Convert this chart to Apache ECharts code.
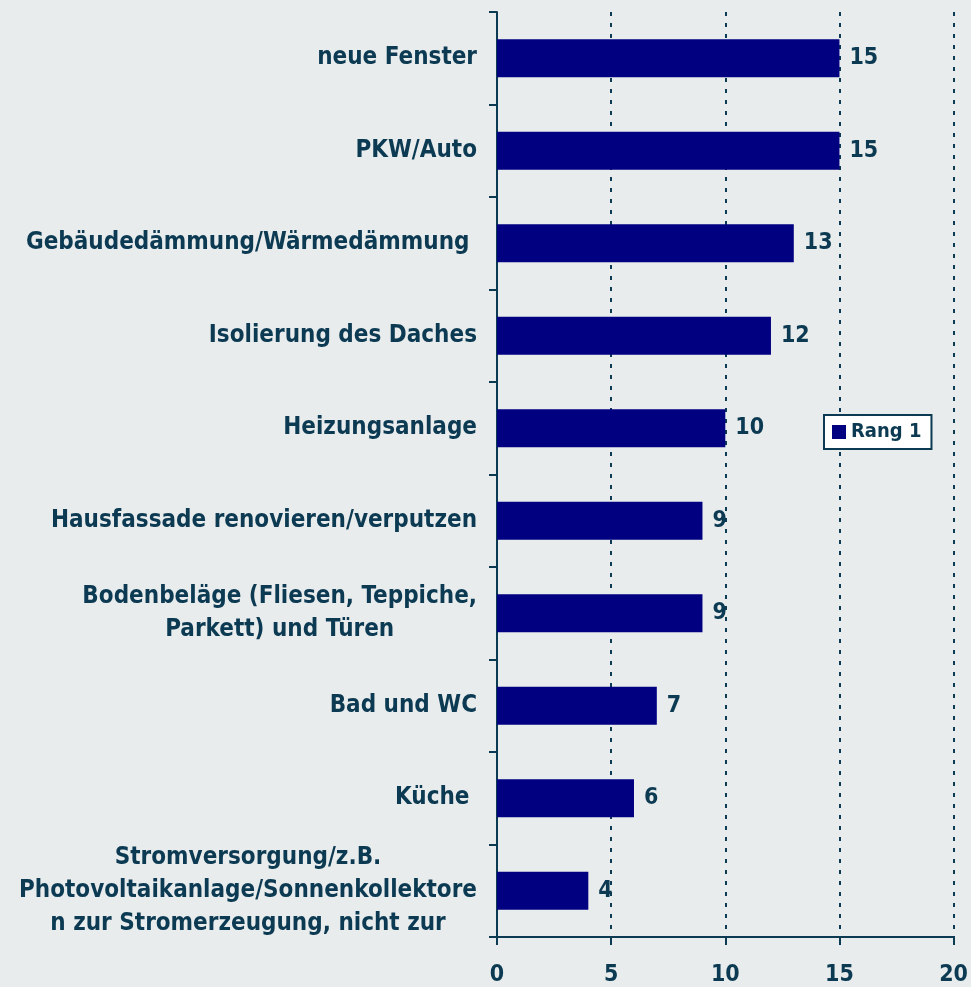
<!DOCTYPE html>
<html>
<head>
<meta charset="utf-8">
<script src="https://cdn.jsdelivr.net/npm/echarts@6/dist/echarts.min.js"></script>
<style>
html,body{margin:0;padding:0;background:#e9eced;}
#c{width:971px;height:987px;}
</style>
</head>
<body>
<div id="c"></div>
<script>
const categories = [
  'neue Fenster',
  'PKW/Auto',
  'Gebäudedämmung/Wärmedämmung ',
  'Isolierung des Daches',
  'Heizungsanlage',
  'Hausfassade renovieren/verputzen',
  'Bodenbeläge (Fliesen, Teppiche,\nParkett) und Türen',
  'Bad und WC',
  'Küche ',
  'Stromversorgung/z.B.\nPhotovoltaikanlage/Sonnenkollektore\nn zur Stromerzeugung, nicht zur'
];
const rang1 = [15, 15, 13, 12, 10, 9, 9, 7, 6, 4];
const xTicks = [0, 5, 10, 15, 20];

const TXT = '#0b3a52';
const FONT = '"DejaVu Sans Condensed", "DejaVu Sans"';

const chart = echarts.init(document.getElementById('c'), null, {renderer: 'canvas'});
chart.setOption({
  backgroundColor: '#e9eced',
  animation: false,
  textStyle: {fontFamily: FONT},
  legend: {
    data: ['Rang 1'],
    left: 824,
    top: 415,
    orient: 'vertical',
    backgroundColor: '#ffffff',
    borderColor: TXT,
    borderWidth: 2,
    padding: [7, 10, 7, 8],
    itemWidth: 14,
    itemHeight: 14,
    itemGap: 0,
    icon: 'rect',
    textStyle: {color: TXT, fontWeight: 'bold', fontSize: 20, fontFamily: FONT}
  },
  grid: {left: 497, right: 14, top: 12, bottom: 49, containLabel: false},
  xAxis: {
    type: 'value',
    min: xTicks[0],
    max: xTicks[xTicks.length - 1],
    interval: 5,
    axisLine: {show: true, lineStyle: {color: TXT, width: 2}},
    axisTick: {show: true, length: 8, lineStyle: {color: TXT, width: 2}},
    axisLabel: {color: TXT, fontWeight: 'bold', fontSize: 23, fontFamily: FONT, margin: 27},
    splitLine: {show: true, lineStyle: {color: TXT, width: 2, type: [4, 7]}}
  },
  yAxis: {
    type: 'category',
    data: categories,
    inverse: true,
    axisLine: {show: true, lineStyle: {color: TXT, width: 2}},
    axisTick: {show: true, length: 8, lineStyle: {color: TXT, width: 2}},
    axisLabel: {
      color: TXT,
      fontWeight: 'bold',
      fontSize: 24,
      fontFamily: FONT,
      margin: 20,
      formatter: v => v.split('\n').map(l => '{c|' + l + '}').join('\n'),
      rich: {c: {align: 'center', color: TXT, fontWeight: 'bold', fontSize: 24, fontFamily: FONT, lineHeight: 33}}
    }
  },
  series: [{
    name: 'Rang 1',
    type: 'bar',
    data: rang1,
    barWidth: 38,
    itemStyle: {color: '#000080'},
    label: {
      show: true,
      position: 'right',
      distance: 10,
      color: TXT,
      fontWeight: 'bold',
      fontSize: 23,
      fontFamily: FONT
    }
  }]
});
</script>
</body>
</html>
